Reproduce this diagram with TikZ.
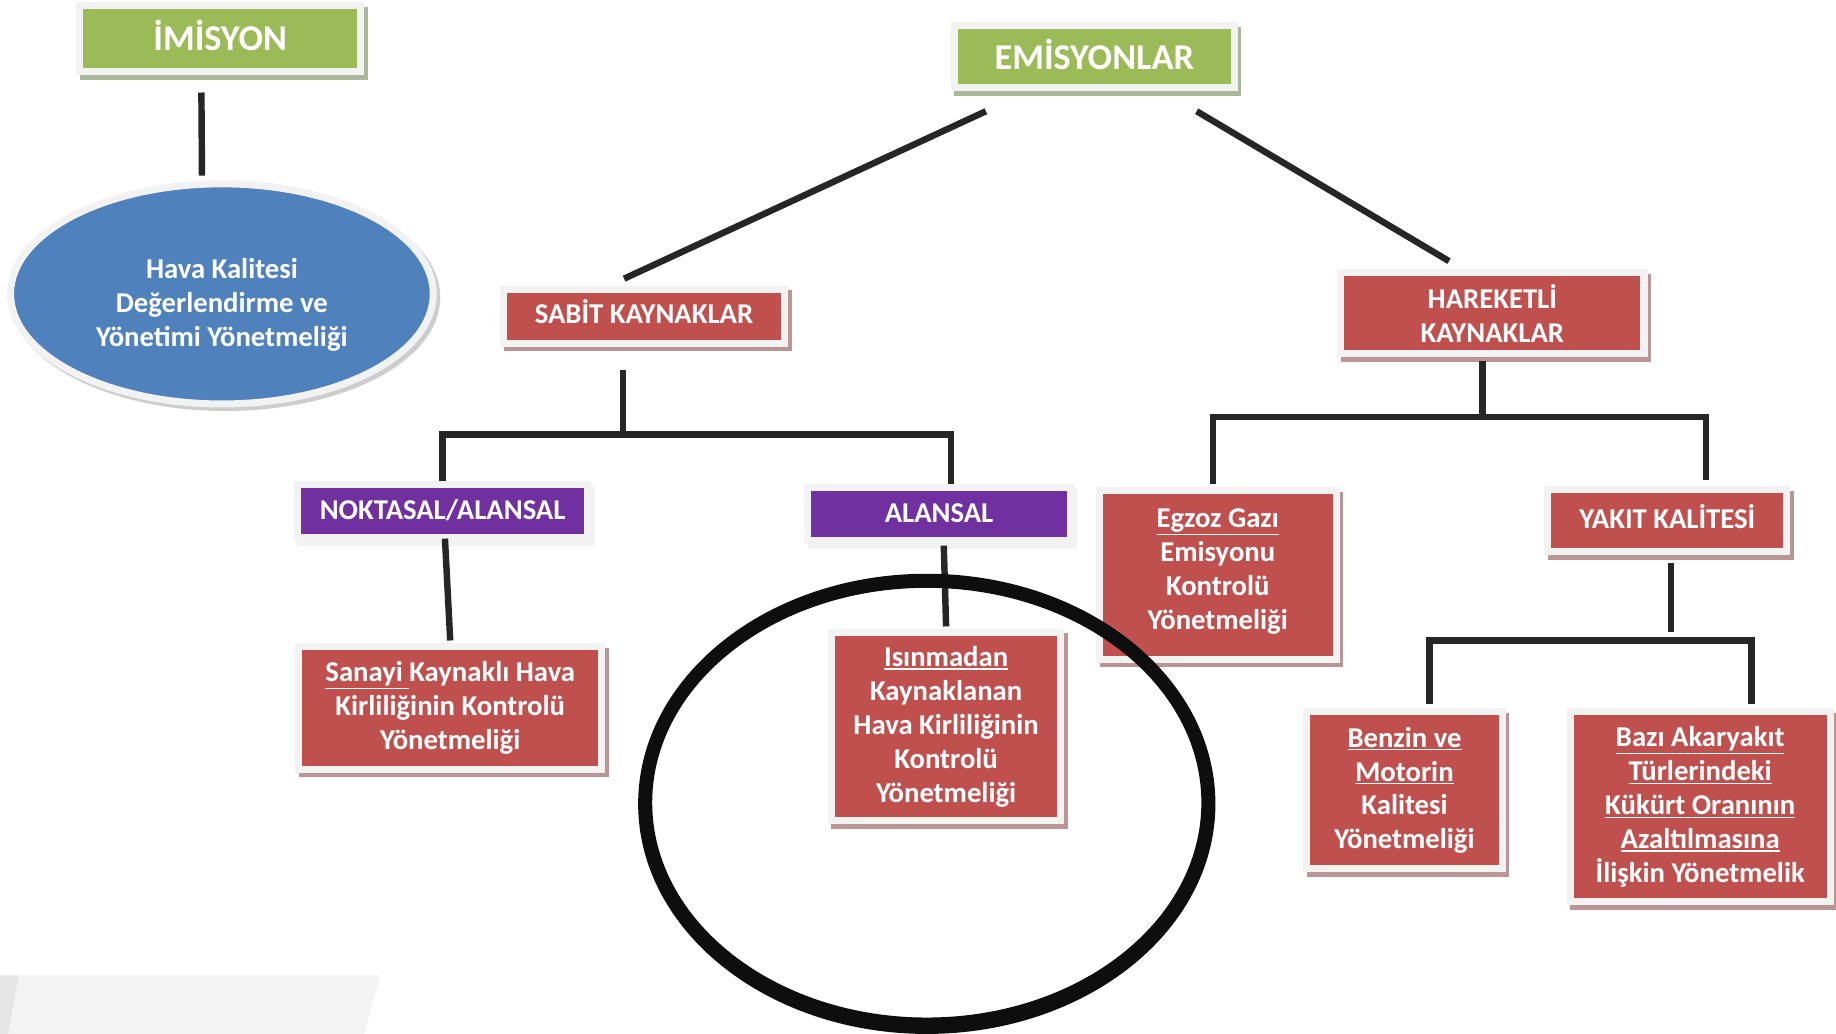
\documentclass[tikz,border=0pt]{standalone}
\usepackage{fontspec}
\setmainfont{Carlito}
\usetikzlibrary{shapes.geometric,calc}
\definecolor{boxgreen}{HTML}{9BBB59}
\definecolor{boxred}{HTML}{C0504D}
\definecolor{boxpurple}{HTML}{7030A0}
\definecolor{boxblue}{HTML}{4F81BD}
\definecolor{framegray}{HTML}{F2F2F2}
\definecolor{shgreen}{HTML}{A9B79A}
\definecolor{shred}{HTML}{B99595}
\definecolor{shgray}{HTML}{CDCDCD}
\definecolor{linecol}{HTML}{262626}
\definecolor{ringcol}{HTML}{0E0E0E}
\newcommand\myul[1]{\vtop{\hbox{#1}\kern1.6pt\hrule height 1pt}}
\newcommand\shiftlines[2]{\raisebox{#1}[0pt][0pt]{\begin{tabular}[t]{@{}c@{}}#2\end{tabular}}}
\tikzset{
  boxbase/.style 2 args={rectangle, fill=#1, draw=framegray, line width=6pt,
    inner sep=0pt, text=white, align=center,
    font=\bfseries\fontsize{24.5}{29}\selectfont,
    preaction={draw=#2, fill=#2, transform canvas={shift={(3pt,-4pt)}}}},
  oneline/.style={text height=16pt, text depth=3pt},
  greenbox/.style={boxbase={boxgreen}{shgreen}, font=\bfseries\fontsize{31}{34}\selectfont,
    text height=25pt, text depth=4pt},
  redbox/.style={boxbase={boxred}{shred}},
  purplebox/.style={boxbase={boxpurple}{framegray}, text height=18pt, text depth=3pt},
  conn/.style={draw=linecol, line width=5.5pt, line join=miter},
}
\begin{document}
\begin{tikzpicture}[x=1pt,y=-1pt]
\useasboundingbox (0,0) rectangle (1568,883);
\fill[white] (0,0) rectangle (1568,883);
% bottom-left grey band
\fill[color={rgb,255:red,243;green,243;blue,243}] (0,833) -- (325,833) -- (311,883) -- (0,883) -- cycle;
\fill[color={rgb,255:red,229;green,229;blue,229}] (0,833) -- (16,833) -- (7,883) -- (0,883) -- cycle;

% nodes
\node[greenbox, minimum width=240, minimum height=56] (imis) at (188,33) {İMİSYON};
\node[ellipse, fill=boxblue, draw=framegray, line width=6pt, minimum width=361, minimum height=188,
      inner sep=0pt, text=white, align=center, font=\bfseries\fontsize{24.5}{29}\selectfont,
      preaction={draw=shgray, fill=shgray, transform canvas={shift={(3pt,-3pt)}}}]
      (hava) at (189.5,251) {\shiftlines{13.5pt}{Hava Kalitesi\\Değerlendirme ve\\Yönetimi Yönetmeliği}};
\node[greenbox, minimum width=239, minimum height=53] (emis) at (934.5,48.5) {EMİSYONLAR};
\node[redbox, oneline, minimum width=240, minimum height=46] (sabit) at (550,270) {SABİT KAYNAKLAR};
\node[redbox, minimum width=259, minimum height=69] (hare) at (1274.5,267.5) {HAREKETLİ\\KAYNAKLAR};
\node[purplebox, minimum width=248, minimum height=45] (nokt) at (378,436.5) {NOKTASAL/ALANSAL};
\node[purplebox, minimum width=224, minimum height=46] (alan) at (802,439) {ALANSAL};
\node[redbox, minimum width=259, minimum height=105] (sanayi) at (384.5,604.5)
  {\myul{Sanayi }Kaynaklı Hava\\Kirliliğinin Kontrolü\\Yönetmeliği};
\node[redbox, minimum width=196, minimum height=161] (isin) at (808,620.5)
  {\myul{Isınmadan}\\Kaynaklanan\\Hava Kirliliğinin\\Kontrolü\\Yönetmeliği};
\node[redbox, minimum width=202, minimum height=144] (egzoz) at (1040,491)
  {\shiftlines{40.5pt}{\myul{Egzoz Gazı}\\Emisyonu\\Kontrolü\\Yönetmeliği}};
\node[redbox, oneline, minimum width=204, minimum height=53] (yakit) at (1424,444.5) {YAKIT KALİTESİ};
\node[redbox, minimum width=167, minimum height=134] (benzin) at (1199.5,675)
  {\myul{Benzin ve}\\\myul{Motorin}\\Kalitesi\\Yönetmeliği};
\node[redbox, minimum width=222, minimum height=162] (bazi) at (1452,689)
  {\myul{Bazı Akaryakıt}\\\myul{Türlerindeki}\\\myul{Kükürt Oranının}\\\myul{Azaltılmasına}\\İlişkin Yönetmelik};

% connectors
\draw[conn] ($(imis.south)+(-16,15)$) -- ($(hava.north)+(-17,-4)$);
\draw[conn] ($(emis.south west)+(30,17)$) -- ($(sabit.north)+(-17,-6)$);
\draw[conn] ($(emis.south east)+(-35,17)$) -- ($(hare.north)+(-37,-7)$);
\draw[conn] ($(sabit.south)+(-18,20)$) -- ($(sabit.south)+(-18,75)$);
\draw[conn] (nokt.north) |- ($(sabit.south)+(0,75)$) -| ($(alan.north)+(10,0)$);
\draw[conn] ($(nokt.south)+(2,-2)$) -- ($(sanayi.north)+(0,-2)$);
\draw[conn] ($(alan.south)+(4,1)$) -- ($(isin.north)+(0,-2)$);
\draw[conn] ($(hare.south)+(-8.5,3)$) -- ($(hare.south)+(-8.5,51)$);
\draw[conn] ($(egzoz.north)+(-4,-3)$) |- ($(hare.south)+(0,51)$) -| ($(yakit.north)+(33,-5)$);
\draw[conn] ($(yakit.south)+(3,7)$) -- ($(yakit.south)+(3,66)$);
\draw[conn] ($(benzin.north)+(21.5,-4)$) |- ($(yakit.south)+(0,73)$) -| ($(bazi.north)+(44,-4)$);

% highlight ellipse
\fill[ringcol, even odd rule] (791.5,686.5) ellipse [x radius=246.5, y radius=196.5]
  (791.5,685.5) ellipse [x radius=234.5, y radius=183.5];
\end{tikzpicture}
\end{document}
